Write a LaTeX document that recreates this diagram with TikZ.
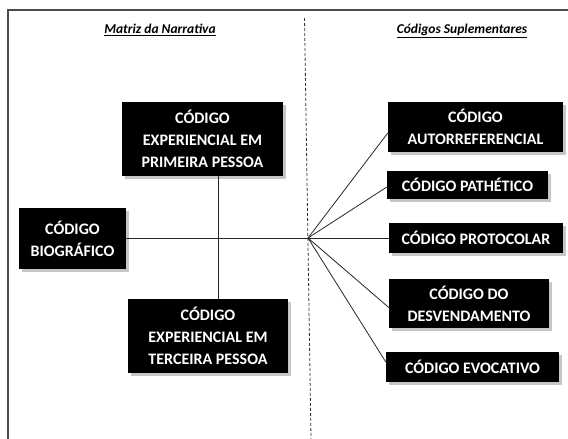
\documentclass[tikz,border=0pt]{standalone}
\usepackage{fontspec}
\setmainfont{Carlito}[BoldFont={Carlito Bold},ItalicFont={Carlito Italic},BoldItalicFont={Carlito Bold Italic}]
\usetikzlibrary{shadows}
\begin{document}
\begin{tikzpicture}[x=1pt,y=-1pt,
  codebox/.style={fill=black,text=white,font=\fontsize{16}{22}\selectfont\bfseries,
    align=center,inner sep=0pt,
    drop shadow={shadow xshift=2.5pt,shadow yshift=-2.5pt,fill=gray!45,opacity=1}},
  conn/.style={draw=black!85,line width=0.8pt},
  titletext/.style={font=\fontsize{13.5}{16}\selectfont\bfseries\itshape}]
\useasboundingbox (0,0) rectangle (568,439);
% frame
\draw[black!70,line width=1.1pt] (8,439) -- (8,10) -- (568,10);
% divider
\draw[black!80,line width=0.8pt,dash pattern=on 3pt off 2pt] (304.5,18) -- (311,439);
% titles
\node[titletext] (t1) at (160,30) {\underline{Matriz da Narrativa}};
\node[titletext] (t2) at (462,31) {\underline{Códigos Suplementares}};
% left boxes
\node[codebox,minimum width=161pt,minimum height=74pt] (b1) at (202.5,139) {CÓDIGO\\EXPERIENCIAL EM\\PRIMEIRA PESSOA};
\node[codebox,minimum width=107pt,minimum height=61pt] (b2) at (72.5,238.5) {CÓDIGO\\BIOGRÁFICO};
\node[codebox,minimum width=160pt,minimum height=74pt] (b3) at (208,336) {CÓDIGO\\EXPERIENCIAL EM\\TERCEIRA PESSOA};
% right boxes
\node[codebox,minimum width=175pt,minimum height=50pt] (r1) at (475.5,127) {CÓDIGO\\AUTORREFERENCIAL};
\node[codebox,minimum width=161pt,minimum height=28pt] (r2) at (467.5,185) {CÓDIGO PATHÉTICO};
\node[codebox,minimum width=174pt,minimum height=30pt] (r3) at (476,238) {CÓDIGO PROTOCOLAR};
\node[codebox,minimum width=160pt,minimum height=49pt] (r4) at (469,303.5) {CÓDIGO DO\\DESVENDAMENTO};
\node[codebox,minimum width=173pt,minimum height=30pt] (r5) at (472.5,367) {CÓDIGO EVOCATIVO};
% connectors
\coordinate (cx) at (218,238);
\coordinate (hub) at (308,238);
\draw[conn] (b1.south -| cx) -- (b3.north -| cx);
\draw[conn] (b2.east |- hub) -- (hub);
\draw[conn] (hub) -- ([yshift=-6pt]r1.west);
\draw[conn] (hub) -- ([yshift=-2pt]r2.west);
\draw[conn] (hub) -- (r3.west);
\draw[conn] (hub) -- ([yshift=-4pt]r4.west);
\draw[conn] (hub) -- ([yshift=5pt]r5.west);
\end{tikzpicture}
\end{document}
